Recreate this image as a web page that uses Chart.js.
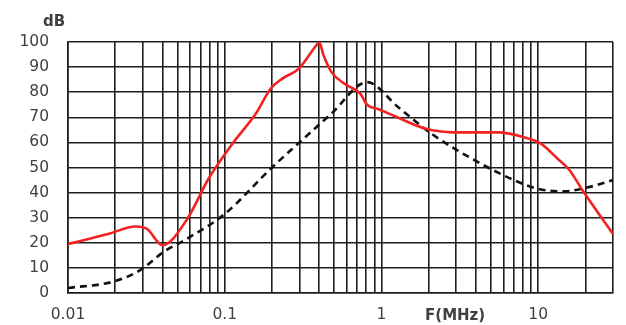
<!DOCTYPE html>
<html>
<head>
<meta charset="utf-8">
<script src="https://cdn.jsdelivr.net/npm/chart.js@4"></script>
<style>
  html, body { margin: 0; padding: 0; background: #fff; }
  #wrap { width: 626px; height: 325px; position: relative; }
</style>
</head>
<body>
<div id="wrap"><canvas id="chart"></canvas></div>
<script>
// Attenuation curves (dB) vs frequency (MHz)
const redFreq = [0.01, 0.018, 0.027, 0.032, 0.04, 0.057, 0.0796, 0.112, 0.158, 0.196, 0.233, 0.297, 0.385, 0.4, 0.427, 0.48, 0.58, 0.73, 0.81, 0.96, 1.25, 1.9, 2.9, 5.5, 8.2, 10.4, 13.3, 15.8, 19.6, 30];
const redDb = [19.5, 23.5, 26.5, 25.5, 19, 29, 46, 59.5, 71.5, 81.4, 85.4, 89.4, 98.8, 100, 94.7, 88, 83.4, 79.5, 75, 73.2, 70.1, 65.5, 64, 64, 62, 59.5, 53.5, 49, 40, 23.5];

const blackFreq = [0.01, 0.0194, 0.0287, 0.041, 0.057, 0.1, 0.2, 0.3, 0.48, 0.81, 1.28, 2.08, 3.9, 7, 9.9, 14.5, 20.5, 30];
const blackDb = [2, 4.5, 9, 16.5, 21.5, 31.5, 50, 60, 71.5, 84, 74, 63.5, 53, 45, 41.5, 40.5, 42, 45];

const yTicks = [0, 10, 20, 30, 40, 50, 60, 70, 80, 90, 100];
const xDecades = [0.01, 0.1, 1, 10];
const xGridValues = [
    0.01, 0.02, 0.03, 0.04, 0.05, 0.06, 0.07, 0.08, 0.09,
    0.1, 0.2, 0.3, 0.4, 0.5, 0.6, 0.7, 0.8, 0.9,
    1, 2, 3, 4, 5, 6, 7, 8, 9,
    10, 20, 30,
];

const textColor = "#404040";
const gridColor = "#1e1e1e";
const fontFamily = "'DejaVu Sans'";

const axisLabels = {
    id: "axisLabels",
    afterDraw(chart) {
        const { ctx, scales } = chart;
        ctx.save();
        ctx.fillStyle = textColor;
        ctx.font = "bold 15px " + fontFamily;
        ctx.textAlign = "center";
        ctx.textBaseline = "middle";
        ctx.fillText("dB", 54, 22);
        ctx.fillText("F(MHz)", scales.x.getPixelForValue(2.95), 316);
        ctx.restore();
    },
};

new Chart(document.getElementById("chart"), {
    type: "line",
    data: {
        datasets: [
            {
                label: "red",
                data: redFreq.map((f, i) => ({ x: f, y: redDb[i] })),
                borderColor: "#f22222",
                borderWidth: 2.6,
                pointRadius: 0,
                cubicInterpolationMode: "monotone",
                fill: false,
            },
            {
                label: "black",
                data: blackFreq.map((f, i) => ({ x: f, y: blackDb[i] })),
                borderColor: "#111",
                borderWidth: 2.6,
                borderDash: [7, 5],
                pointRadius: 0,
                cubicInterpolationMode: "monotone",
                fill: false,
            },
        ],
    },
    options: {
        responsive: true,
        maintainAspectRatio: false,
        animation: false,
        layout: { padding: { top: 42, right: 11, left: 0, bottom: 0 } },
        plugins: {
            legend: { display: false },
            tooltip: { enabled: false },
        },
        scales: {
            x: {
                type: "logarithmic",
                min: 0.01,
                max: 30,
                afterBuildTicks: scale => {
                    scale.ticks = xGridValues.map(v => ({ value: v }));
                },
                afterFit: scale => { scale.height = 32; },
                grid: { color: gridColor, lineWidth: 1.6, drawTicks: false },
                border: { color: gridColor, width: 1.6 },
                ticks: {
                    autoSkip: false,
                    maxRotation: 0,
                    padding: 13,
                    color: textColor,
                    font: { family: fontFamily, size: 15.5 },
                    callback: v => xDecades.includes(v) ? String(v) : "",
                },
            },
            y: {
                min: 0,
                max: 100,
                afterBuildTicks: scale => {
                    scale.ticks = yTicks.map(v => ({ value: v }));
                },
                afterFit: scale => { scale.width = 68; },
                grid: { color: gridColor, lineWidth: 1.6, drawTicks: false },
                border: { color: gridColor, width: 1.6 },
                ticks: {
                    padding: 19,
                    color: textColor,
                    font: { family: fontFamily, size: 15.5 },
                },
            },
        },
    },
    plugins: [axisLabels],
});
</script>
</body>
</html>
